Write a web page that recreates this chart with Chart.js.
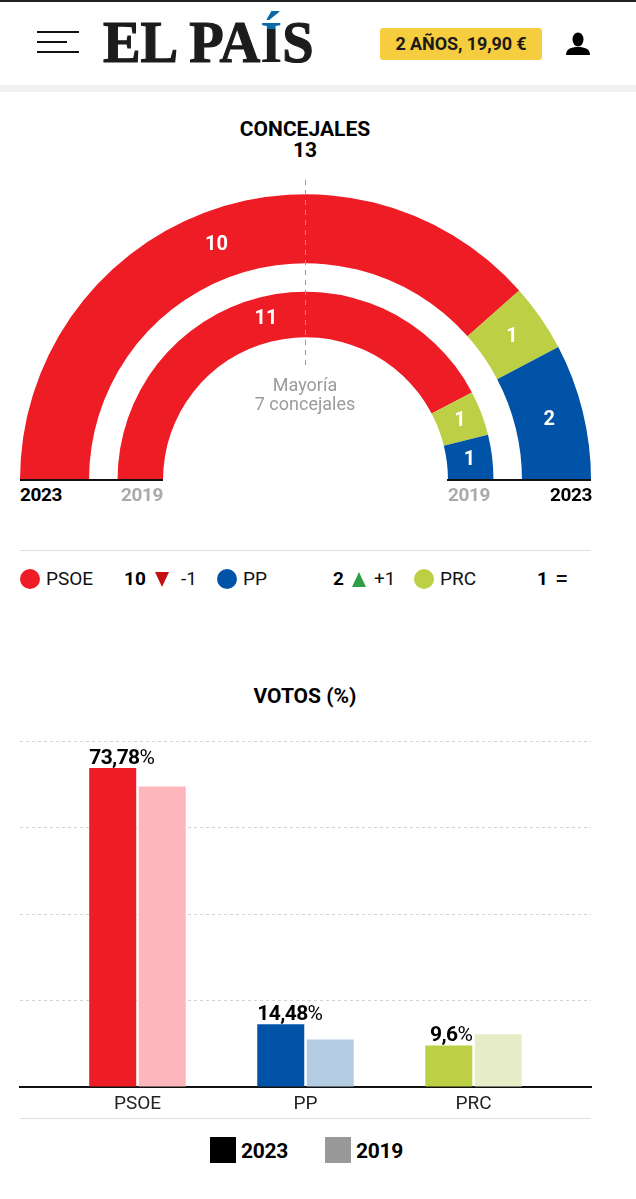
<!DOCTYPE html>
<html lang="es">
<head>
<meta charset="utf-8">
<title>Concejales y votos</title>
<script src="https://cdn.jsdelivr.net/npm/chart.js@4/dist/chart.umd.js"></script>
<style>
  html, body { margin: 0; padding: 0; background: #fff; }
  #page { position: relative; width: 636px; height: 1199px; overflow: hidden; font-family: Roboto, sans-serif; color: #111; }
  #page > * { position: absolute; }
  .bold { font-family: Roboto, sans-serif; font-weight: 700; color: #000; }
  .mid { transform: translateX(-50%); white-space: nowrap; }
  .rule { left: 20px; width: 571px; height: 1px; background: #dedede; }
  .year { font-size: 19px; line-height: 20px; top: 485px; letter-spacing: -0.4px; }
  .dot { width: 20px; height: 20px; border-radius: 50%; top: 569px; }
  .leg { font-size: 19px; line-height: 22px; top: 568px; white-space: nowrap; }
  .tri { width: 0; height: 0; border-left: 7.5px solid transparent; border-right: 7.5px solid transparent; top: 572px; }
  .swatch { width: 26px; height: 26px; top: 1137px; }
</style>
</head>
<body>
<div id="page">
  <div style="left:0;top:0;width:636px;height:2px;background:#222"></div>
  <div style="left:37px;top:31px;width:42px;height:2px;background:#111"></div>
  <div style="left:37px;top:41px;width:30px;height:2px;background:#111"></div>
  <div style="left:37px;top:51px;width:42px;height:2px;background:#111"></div>
  <div id="logo" style="left:103px;top:7px;font:700 60px/70px 'Liberation Serif',serif;color:#1c1c1c;-webkit-text-stroke:1.2px #1c1c1c;transform-origin:0 0;transform:scaleX(0.94);white-space:nowrap">EL PA<span style="background:linear-gradient(#0a6aa5 30%,#1c1c1c 30%);-webkit-background-clip:text;background-clip:text;color:transparent;-webkit-text-stroke:0">Í</span>S</div>
  <div style="left:380px;top:28px;width:162px;height:32px;background:#f5cd3e;border-radius:3px"></div>
  <div class="bold mid" style="left:461px;top:33px;font-size:18px;line-height:22px;color:#1a1a1a;letter-spacing:-0.1px">2 AÑOS, 19,90 €</div>
  <svg style="left:566px;top:32px" width="24" height="24" viewBox="0 0 24 24"><ellipse cx="12" cy="7.5" rx="5.5" ry="7" fill="#000"/><path d="M0 23c0-6 5-8 12-8s12 2 12 8z" fill="#000"/></svg>
  <div style="left:0;top:85px;width:636px;height:7px;background:#f0f0f0"></div>

  <div class="bold mid" style="left:305px;top:118px;font-size:21px;line-height:22px">CONCEJALES</div>
  <div class="bold mid" style="left:305px;top:139px;font-size:21px;line-height:22px">13</div>

  <canvas id="seatChart" width="571" height="286" style="left:20px;top:194px"></canvas>
  <div style="left:304.5px;top:180px;width:1.5px;height:185px;background:repeating-linear-gradient(#999 0 5px,transparent 5px 10px)"></div>
  <div class="mid" style="left:305px;top:375px;font-size:18px;line-height:20px;color:#9b9b9b">Mayoría</div>
  <div class="mid" style="left:305px;top:394px;font-size:18px;line-height:20px;color:#9b9b9b">7 concejales</div>
  <div style="left:20px;top:479px;width:143px;height:2px;background:#111"></div>
  <div style="left:447px;top:479px;width:144px;height:2px;background:#111"></div>
  <div class="bold year" style="left:20px">2023</div>
  <div class="bold year" style="left:121px;color:#aaa">2019</div>
  <div class="bold year" style="left:448px;color:#aaa">2019</div>
  <div class="bold year" style="left:550px">2023</div>

  <div class="rule" style="top:550px"></div>
  <div id="seatLegend" style="left:0;top:0"></div>

  <div class="bold mid" style="left:305px;top:685px;font-size:21px;line-height:22px">VOTOS (%)</div>
  <canvas id="voteChart" width="636" height="398" style="left:0;top:720px"></canvas>
  <div class="rule" style="top:1118px"></div>
  <div class="swatch" style="left:210px;background:#000"></div>
  <div class="bold" style="left:241px;top:1139px;font-size:21px;line-height:24px;letter-spacing:-0.3px">2023</div>
  <div class="swatch" style="left:325px;background:#999"></div>
  <div class="bold" style="left:356px;top:1139px;font-size:21px;line-height:24px;letter-spacing:-0.3px">2019</div>
</div>

<script>
/* partidos y datos */
const parties = ['PSOE', 'PP', 'PRC'];
const partyColors = ['#ee1c25', '#0053a6', '#bccf45'];
const partyColors2019 = ['#fdb6bb', '#b3cbe3', '#e7edc6'];

// orden del hemiciclo, de izquierda a derecha
const arcParties = ['PSOE', 'PRC', 'PP'];
const arcColors = ['#ee1c25', '#bccf45', '#0053a6'];
const seats2023 = [10, 1, 2];
const seats2019 = [11, 1, 1];

const legendSeats = [10, 2, 1];
const legendChange = ['-1', '+1', '='];

const votes2023 = [73.78, 14.48, 9.6];
const votes2019 = [69.5, 11, 12.2];
const voteTicks = [0, 20, 40, 60, 80];

const FONT_BOLD = 'Roboto, sans-serif';

/* leyenda de concejales */
const legendSlots = [
  { dot: 20, name: 46, num: 124, tri: 155, diff: 181 },
  { dot: 217, name: 243, num: 333, tri: 352, diff: 374 },
  { dot: 414, name: 440, num: 537, tri: 0, diff: 555 }
];
document.getElementById('seatLegend').innerHTML = parties.map((p, i) => {
  const s = legendSlots[i];
  const ch = legendChange[i];
  let tri = '';
  if (ch[0] === '-') tri = `<div class="tri" style="position:absolute;left:${s.tri}px;border-top:15px solid #c40f14"></div>`;
  if (ch[0] === '+') tri = `<div class="tri" style="position:absolute;left:${s.tri}px;border-bottom:15px solid #2f9f46"></div>`;
  return `
    <div class="dot" style="position:absolute;left:${s.dot}px;background:${partyColors[i]}"></div>
    <div class="leg" style="position:absolute;left:${s.name}px">${p}</div>
    <div class="leg bold" style="position:absolute;left:${s.num}px">${legendSeats[i]}</div>
    ${tri}
    <div class="leg" style="position:absolute;left:${s.diff}px;${ch === '=' ? 'font-size:24px' : ''}">${ch}</div>`;
}).join('');

/* numeros blancos dentro de cada arco */
const arcLabels = {
  id: 'arcLabels',
  afterDatasetsDraw(chart) {
    const ctx = chart.ctx;
    ctx.save();
    ctx.fillStyle = '#fff';
    ctx.font = `700 20px ${FONT_BOLD}`;
    ctx.textAlign = 'center';
    ctx.textBaseline = 'middle';
    chart.data.datasets.forEach((ds, di) => {
      if (ds.spacer) return;
      chart.getDatasetMeta(di).data.forEach((arc, i) => {
        const pos = arc.tooltipPosition();
        ctx.fillText(ds.data[i], pos.x, pos.y);
      });
    });
    ctx.restore();
  }
};

new Chart(document.getElementById('seatChart'), {
  type: 'doughnut',
  plugins: [arcLabels],
  data: {
    labels: arcParties,
    datasets: [
      { data: seats2023, backgroundColor: arcColors, borderWidth: 0, weight: 69 },
      { data: [1], backgroundColor: ['rgba(0,0,0,0)'], borderWidth: 0, weight: 28.5, spacer: true },
      { data: seats2019, backgroundColor: arcColors, borderWidth: 0, weight: 45.5 }
    ]
  },
  options: {
    responsive: false,
    animation: false,
    rotation: -90,
    circumference: 180,
    cutout: '49.9%',
    plugins: { legend: { display: false }, tooltip: { enabled: false } }
  }
});

/* etiquetas de valor sobre las barras de 2023 */
const voteLabels = {
  id: 'voteLabels',
  afterDatasetsDraw(chart) {
    const ctx = chart.ctx;
    ctx.save();
    ctx.fillStyle = '#000';
    ctx.textBaseline = 'alphabetic';
    ctx.letterSpacing = '-0.6px';
    chart.getDatasetMeta(0).data.forEach((bar, i) => {
      const num = String(votes2023[i]).replace('.', ',');
      const boldFont = `700 21px ${FONT_BOLD}`;
      const pctFont = `400 21px ${FONT_BOLD}`;
      ctx.font = boldFont;
      const w1 = ctx.measureText(num).width;
      ctx.font = pctFont;
      const w2 = ctx.measureText('%').width;
      const left = bar.x - bar.width / 2;
      const right = bar.x + bar.width / 2;
      const x = w1 + w2 > bar.width ? left : right - w1 - w2;
      ctx.textAlign = 'left';
      ctx.font = boldFont;
      ctx.fillText(num, x, bar.y - 4);
      ctx.font = pctFont;
      ctx.fillText('%', x + w1, bar.y - 4);
    });
    ctx.restore();
  }
};

new Chart(document.getElementById('voteChart'), {
  type: 'bar',
  plugins: [voteLabels],
  data: {
    datasets: [
      { label: '2023', data: votes2023.map((v, i) => ({ x: i, y: v })), backgroundColor: partyColors },
      { label: '2019', data: votes2019.map((v, i) => ({ x: i, y: v })), backgroundColor: partyColors2019 }
    ]
  },
  options: {
    responsive: false,
    animation: false,
    categoryPercentage: 0.589,
    barPercentage: 0.95,
    layout: { padding: { left: 20, right: 45, top: 21, bottom: 0 } },
    scales: {
      x: {
        type: 'linear',
        offset: false,
        min: -0.699,
        max: 2.699,
        afterBuildTicks(scale) { scale.ticks = parties.map((p, i) => ({ value: i })); },
        afterFit(scale) { scale.height = 31; },
        grid: { display: false },
        border: { color: '#111', width: 2 },
        ticks: {
          autoSkip: false,
          maxRotation: 0,
          padding: -2,
          color: '#222',
          font: { family: FONT_BOLD, size: 19 },
          callback: (v) => parties[v]
        }
      },
      y: {
        min: 0,
        max: 80,
        afterBuildTicks(scale) { scale.ticks = voteTicks.map(v => ({ value: v })); },
        afterFit(scale) { scale.width = 0; },
        border: { display: false, dash: [3, 3] },
        grid: { color: '#d4d4d4', drawTicks: false },
        ticks: { display: false }
      }
    },
    plugins: { legend: { display: false }, tooltip: { enabled: false } }
  }
});
</script>
</body>
</html>
